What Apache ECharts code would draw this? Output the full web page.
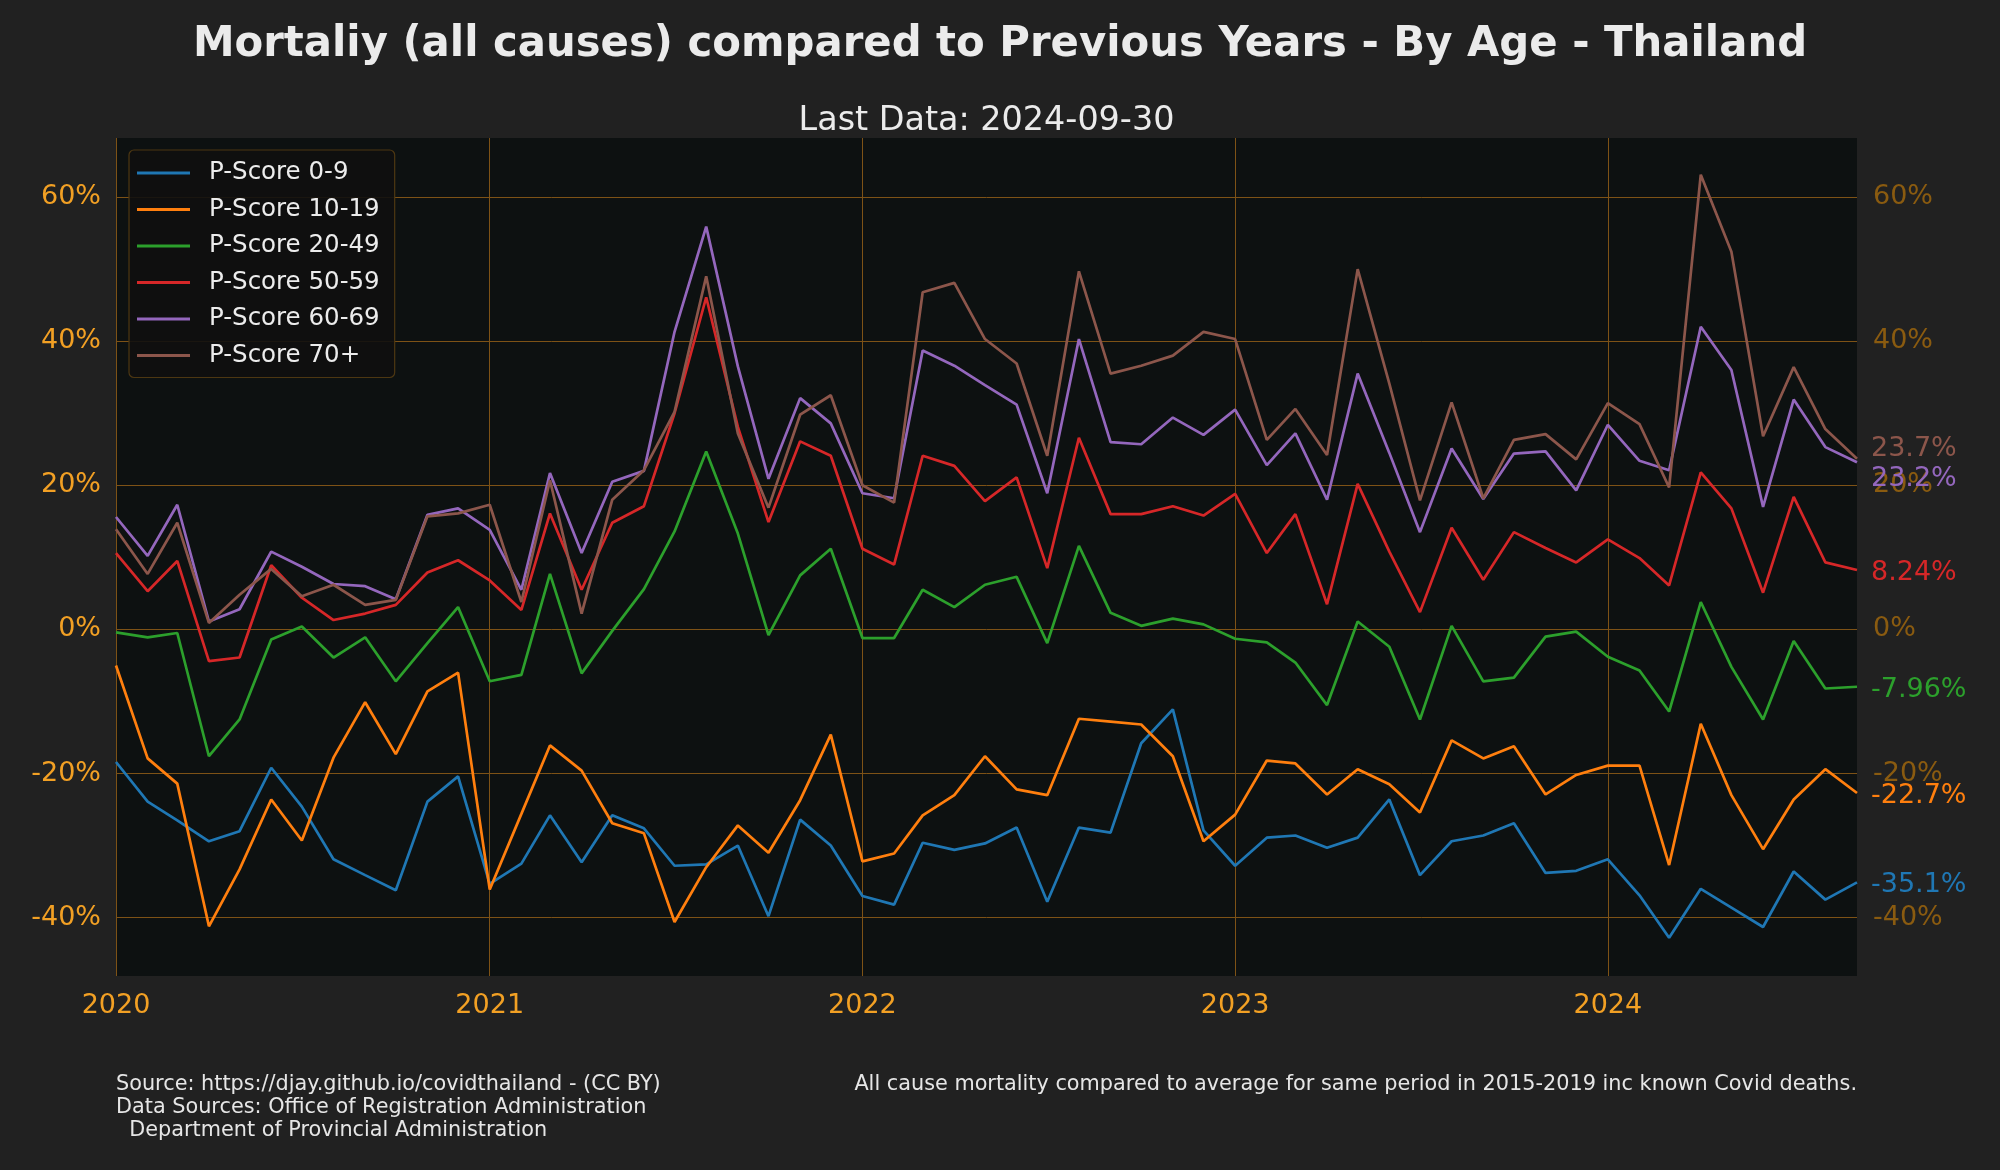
<!DOCTYPE html>
<html>
<head>
<meta charset="utf-8">
<script src="https://cdn.jsdelivr.net/npm/echarts@6/dist/echarts.min.js"></script>
<style>
html,body{margin:0;padding:0;background:#212121;}
#chart{width:2000px;height:1170px;}
</style>
</head>
<body>
<div id="chart"></div>
<script>
var months = [
'2020-01-01','2020-02-01','2020-03-01','2020-04-01','2020-05-01','2020-06-01','2020-07-01','2020-08-01','2020-09-01','2020-10-01','2020-11-01','2020-12-01',
'2021-01-01','2021-02-01','2021-03-01','2021-04-01','2021-05-01','2021-06-01','2021-07-01','2021-08-01','2021-09-01','2021-10-01','2021-11-01','2021-12-01',
'2022-01-01','2022-02-01','2022-03-01','2022-04-01','2022-05-01','2022-06-01','2022-07-01','2022-08-01','2022-09-01','2022-10-01','2022-11-01','2022-12-01',
'2023-01-01','2023-02-01','2023-03-01','2023-04-01','2023-05-01','2023-06-01','2023-07-01','2023-08-01','2023-09-01','2023-10-01','2023-11-01','2023-12-01',
'2024-01-01','2024-02-01','2024-03-01','2024-04-01','2024-05-01','2024-06-01','2024-07-01','2024-08-01','2024-09-01'
];

var seriesNames = ['P-Score 0-9','P-Score 10-19','P-Score 20-49','P-Score 50-59','P-Score 60-69','P-Score 70+'];

var p0_9 = [
-18.4,-23.9,-26.5,-29.4,-28.0,-19.2,-24.6,-31.9,-34.1,-36.2,-23.9,-20.4,
-35.3,-32.5,-25.8,-32.3,-25.8,-27.6,-32.8,-32.6,-30.0,-39.8,-26.4,-30.0,
-37.0,-38.2,-29.6,-30.6,-29.7,-27.5,-37.8,-27.5,-28.2,-15.8,-11.1,-27.9,
-32.8,-28.9,-28.6,-30.3,-28.9,-23.6,-34.1,-29.4,-28.6,-26.9,-33.8,-33.5,
-31.9,-36.9,-42.8,-36.0,-38.6,-41.3,-33.6,-37.5,-35.1
];
var p10_19 = [
-5.0,-17.9,-21.4,-41.2,-33.3,-23.6,-29.3,-17.8,-10.1,-17.3,-8.6,-6.0,
-36.1,-25.6,-16.1,-19.6,-26.9,-28.3,-40.6,-33.0,-27.2,-31.0,-23.7,-14.6,
-32.2,-31.1,-25.8,-23.0,-17.6,-22.2,-23.0,-12.4,-12.8,-13.2,-17.6,-29.4,
-25.7,-18.2,-18.6,-22.9,-19.4,-21.5,-25.4,-15.4,-17.9,-16.2,-22.9,-20.2,
-18.9,-18.9,-32.7,-13.1,-23.0,-30.5,-23.6,-19.4,-22.7
];
var p20_49 = [
-0.4,-1.1,-0.5,-17.6,-12.5,-1.4,0.4,-3.9,-1.1,-7.2,-1.9,3.1,
-7.2,-6.3,7.7,-6.1,-0.2,5.6,13.6,24.7,13.3,-0.8,7.5,11.2,
-1.2,-1.2,5.5,3.1,6.2,7.3,-1.9,11.6,2.3,0.5,1.5,0.7,
-1.3,-1.8,-4.6,-10.5,1.1,-2.4,-12.5,0.5,-7.2,-6.7,-1.0,-0.3,
-3.8,-5.7,-11.4,3.8,-5.2,-12.5,-1.6,-8.2,-7.96
];
var p50_59 = [
10.6,5.3,9.5,-4.4,-3.9,8.9,4.4,1.3,2.2,3.4,7.9,9.6,
6.8,2.7,16.1,5.5,14.8,17.1,30.0,46.1,28.1,14.9,26.1,24.1,
11.2,9.0,24.1,22.7,17.8,21.1,8.5,26.6,16.0,16.0,17.1,15.8,
18.8,10.6,16.0,3.5,20.2,10.8,2.4,14.1,6.9,13.5,11.3,9.3,
12.5,9.9,6.1,21.8,16.8,5.1,18.4,9.3,8.24
];
var p60_69 = [
15.6,10.2,17.3,1.1,2.8,10.8,8.7,6.3,6.0,4.2,15.9,16.8,
13.8,5.5,21.7,10.6,20.5,22.0,41.3,55.9,36.5,20.9,32.1,28.6,
18.9,18.2,38.7,36.6,33.9,31.2,18.9,40.3,26.0,25.7,29.4,27.0,
30.5,22.8,27.2,18.0,35.5,24.5,13.5,25.1,18.1,24.4,24.7,19.3,
28.4,23.4,22.1,42.0,36.0,17.0,31.9,25.3,23.2
];
var p70 = [
13.9,7.7,14.8,0.9,4.8,8.4,4.6,6.2,3.4,4.1,15.7,16.1,
17.3,3.8,20.7,2.2,18.0,22.1,30.2,49.0,27.2,16.9,29.8,32.5,
20.0,17.6,46.8,48.1,40.3,36.9,24.1,49.7,35.5,36.6,38.0,41.3,
40.3,26.3,30.6,24.2,50.0,34.1,17.9,31.5,18.2,26.3,27.1,23.6,
31.4,28.5,19.7,63.1,52.4,26.8,36.4,27.8,23.7
];

var allValues = [p0_9, p10_19, p20_49, p50_59, p60_69, p70];
var colors = ['#1f77b4','#ff7f0e','#2ca02c','#d62728','#9467bd','#8c564b'];
var endOffsets = [[0,3],[0,3],[0,3],[0,3],[0,17],[0,-10]];

var FONT = 'DejaVu Sans';
var ORANGE = '#f2a024';
var DARK_ORANGE = '#8a5b10';
var GRID = '#7d5216';

var chart = echarts.init(document.getElementById('chart'), null, {renderer: 'canvas'});

var series = allValues.map(function (vals, i) {
  return {
    name: seriesNames[i],
    type: 'line',
    yAxisIndex: 0,
    symbol: 'none',
    showSymbol: false,
    lineStyle: {color: colors[i], width: 2.7},
    itemStyle: {color: colors[i]},
    emphasis: {disabled: true},
    animation: false,
    data: months.map(function (m, k) { return [m, vals[k]]; }),
    endLabel: {
      show: true,
      distance: 14,
      offset: endOffsets[i],
      color: colors[i],
      fontSize: 27,
      fontFamily: FONT,
      formatter: function (p) { return Number(p.value[1]).toPrecision(3) + '%'; }
    }
  };
});

var option = {
  backgroundColor: '#212121',
  animation: false,
  grid: {
    left: 116, right: 143, top: 138, bottom: 194,
    show: true, backgroundColor: '#0d1111', borderWidth: 0
  },
  legend: {
    orient: 'vertical',
    left: 129, top: 150,
    padding: [9, 15, 8, 8],
    icon: 'rect',
    itemWidth: 53, itemHeight: 3, itemGap: 8.5,
    backgroundColor: 'rgba(16,16,16,0.9)',
    borderColor: '#4d3712', borderWidth: 1.2, borderRadius: 5,
    textStyle: {color: '#ececec', fontSize: 24.5, fontFamily: FONT, lineHeight: 28, padding: [0, 0, 0, 14]},
    data: seriesNames
  },
  xAxis: {
    type: 'time',
    min: '2020-01-01', max: '2024-09-01',
    minInterval: 365 * 86400000,
    maxInterval: 366 * 86400000,
    axisLine: {show: false},
    axisTick: {show: false},
    axisLabel: {
      color: ORANGE, fontSize: 27, fontFamily: FONT, margin: 16,
      showMaxLabel: false,
      formatter: function (v) { return String(new Date(v).getFullYear()); }
    },
    splitLine: {show: true, showMaxLine: false, lineStyle: {color: GRID, width: 1}}
  },
  yAxis: [{
    type: 'value', position: 'left',
    min: -48.1, max: 68.2, splitNumber: 5,
    axisLine: {show: false}, axisTick: {show: false},
    axisLabel: {color: ORANGE, fontSize: 27, fontFamily: FONT, margin: 15, padding: [9, 0, 0, 0],
      showMinLabel: false, showMaxLabel: false, formatter: '{value}%'},
    splitLine: {show: true, showMinLine: false, showMaxLine: false, lineStyle: {color: GRID, width: 1}}
  }, {
    type: 'value', position: 'right',
    min: -48.1, max: 68.2, splitNumber: 5,
    axisLine: {show: false}, axisTick: {show: false},
    axisLabel: {color: DARK_ORANGE, fontSize: 27, fontFamily: FONT, margin: 16, padding: [9, 0, 0, 0],
      showMinLabel: false, showMaxLabel: false, formatter: '{value}%'},
    splitLine: {show: false}
  }],
  graphic: [
    {type: 'text', x: 1000, y: 45, silent: true,
     style: {text: 'Mortaliy (all causes) compared to Previous Years - By Age - Thailand',
       fill: '#ebebeb', font: 'bold 41.8px "DejaVu Sans"', align: 'center', verticalAlign: 'middle'}},
    {type: 'text', x: 986.5, y: 121, silent: true,
     style: {text: 'Last Data: 2024-09-30', fill: '#ebebeb', font: '33.4px "DejaVu Sans"', align: 'center', verticalAlign: 'middle'}},
    {type: 'text', x: 116, y: 1084.5, silent: true,
     style: {text: 'Source: https://djay.github.io/covidthailand - (CC BY)', fill: '#e6e6e6', font: '20.8px "DejaVu Sans"', align: 'left', verticalAlign: 'middle'}},
    {type: 'text', x: 116, y: 1107.5, silent: true,
     style: {text: 'Data Sources: Office of Registration Administration', fill: '#e6e6e6', font: '20.8px "DejaVu Sans"', align: 'left', verticalAlign: 'middle'}},
    {type: 'text', x: 116, y: 1130.5, silent: true,
     style: {text: '  Department of Provincial Administration', fill: '#e6e6e6', font: '20.8px "DejaVu Sans"', align: 'left', verticalAlign: 'middle'}},
    {type: 'text', x: 1857, y: 1084.5, silent: true,
     style: {text: 'All cause mortality compared to average for same period in 2015-2019 inc known Covid deaths.', fill: '#e6e6e6', font: '20.8px "DejaVu Sans"', align: 'right', verticalAlign: 'middle'}}
  ],
  series: series
};
chart.setOption(option);
</script>
</body>
</html>
